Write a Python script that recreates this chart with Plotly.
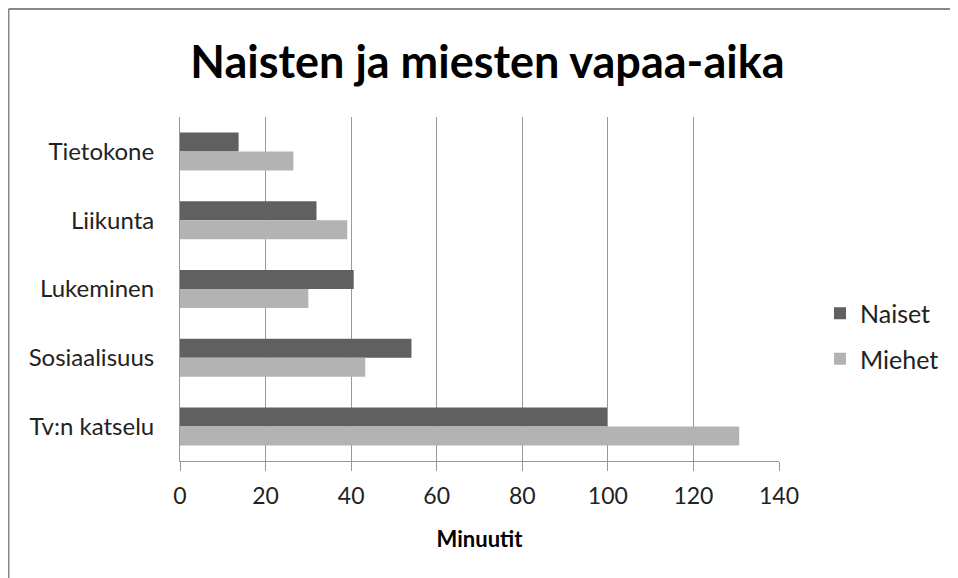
import plotly.graph_objects as go

categories = ["Tietokone", "Liikunta", "Lukeminen", "Sosiaalisuus", "Tv:n katselu"]
naiset = [13.7, 31.9, 40.6, 54.1, 99.8]
miehet = [26.5, 39.1, 30.0, 43.3, 130.7]
x_ticks = [0, 20, 40, 60, 80, 100, 120, 140]

font_family = "Lato, 'Open Sans', sans-serif"

W, H = 950, 570
L, T, PW, PH = 172, 109, 599, 344
R = W - L - PW
B = H - T - PH

fig = go.Figure()
fig.add_trace(go.Bar(name="Naiset", y=categories, x=naiset, orientation="h",
                     marker=dict(color="#606060", line=dict(width=0)), legendgroup="a"))
fig.add_trace(go.Bar(name="Miehet", y=categories, x=miehet, orientation="h",
                     marker=dict(color="#b3b3b3", line=dict(width=0)), legendgroup="b"))

fig.update_layout(
    width=W, height=H,
    margin=dict(l=L, r=R, t=T, b=B),
    paper_bgcolor="white", plot_bgcolor="white",
    barmode="group", bargap=0.447, bargroupgap=0,
    title=dict(text="<b>Naisten ja miesten vapaa-aika</b>", x=0.5047, xanchor="center",
               y=0.905, yanchor="middle",
               font=dict(family=font_family, size=45, color="black")),
    font=dict(family=font_family, color="#222"),
    legend=dict(x=(812 - L) / PW, xanchor="left", y=1 - (328 - T) / PH, yanchor="middle",
                font=dict(size=25, color="#222"), tracegroupgap=10,
                bgcolor="rgba(0,0,0,0)"),
    xaxis=dict(range=[0, 140], tickvals=x_ticks, showgrid=True, gridcolor="#999",
               gridwidth=1, showline=True, linecolor="#999", linewidth=1,
               ticks="outside", ticklen=9, tickcolor="#999", ticklabelstandoff=5,
               tickfont=dict(size=23, color="#222"), zeroline=False,
               title=dict(text="<b>Minuutit</b>", font=dict(size=22, color="black"), standoff=24)),
    yaxis=dict(categoryorder="array", categoryarray=categories, autorange="reversed",
               showline=True, linecolor="#999", linewidth=1, ticks="",
               tickfont=dict(size=24, color="#222"), ticklabelstandoff=20, showgrid=False),
)

fy = (T + PH - 1) / PH
fx = (0.5 - L) / PW
fig.layout.shapes = [
    dict(type="line", xref="paper", yref="paper", x0=fx, x1=(W + 5 - L) / PW, y0=fy, y1=fy,
         line=dict(color="#888", width=2)),
    dict(type="line", xref="paper", yref="paper", x0=fx, x1=fx, y0=fy, y1=-(B + 5) / PH,
         line=dict(color="#888", width=2)),
]

fig.write_html("out.html")
